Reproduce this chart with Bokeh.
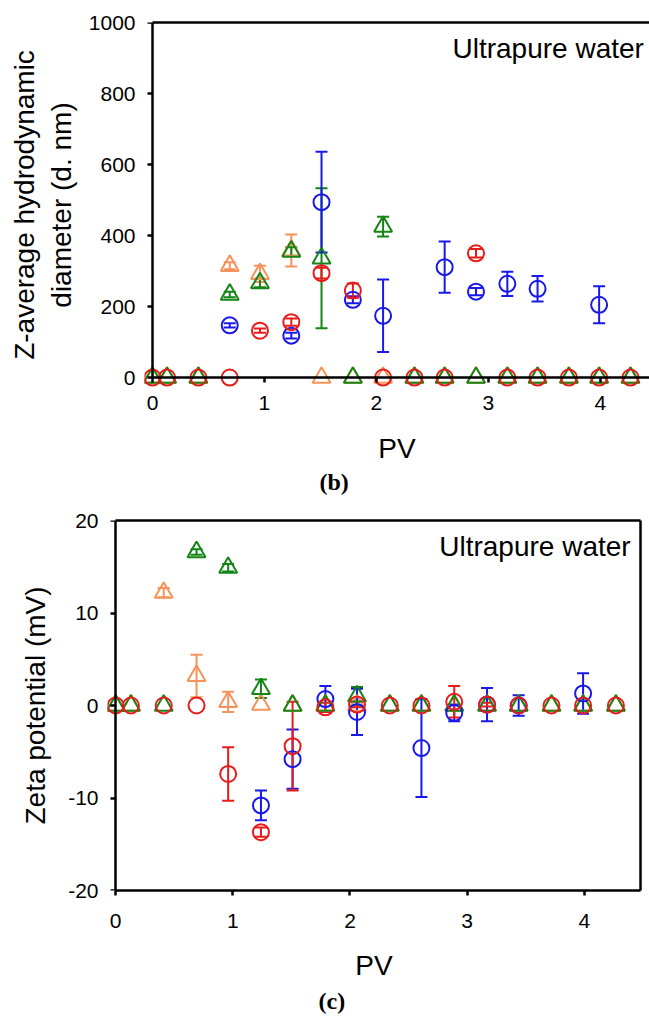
import math
from bokeh.plotting import figure
from bokeh.models import (Range1d, LinearAxis, Whisker, TeeHead, Label,
                          ColumnDataSource, FixedTicker, Title)
from bokeh.layouts import column
from bokeh.embed import file_html
from bokeh.resources import INLINE

NaN = float("nan")

# ---------------- data ----------------
pv = [0.0, 0.13, 0.41, 0.69, 0.96, 1.24, 1.51, 1.79, 2.06, 2.34, 2.61, 2.89,
      3.17, 3.44, 3.72, 3.99, 4.27]

# (b) Z-average hydrodynamic diameter (d. nm)
dia_orange = [0, 0, 0, 315, 292, 358, 0, 0, 0, 0, 0, 0, 0, 0, 0, 0, 0]
dia_orange_err = [0, 0, 0, 10, 23, 45, 0, 0, 0, 0, 0, 0, 0, 0, 0, 0, 0]
dia_green = [0, 0, 0, 234, 266, 355, 336, 0, 425, 0, 0, 0, 0, 0, 0, 0, 0]
dia_green_err = [0, 0, 0, 8, 12, 12, 197, 0, 28, 0, 0, 0, 0, 0, 0, 0, 0]
dia_blue = [NaN, NaN, NaN, 147, NaN, 118, 494, 219, 174, NaN, 311, 242, 264,
            250, NaN, 205, NaN]
dia_blue_err = [0, 0, 0, 6, 0, 8, 142, 10, 102, 0, 72, 10, 34, 36, 0, 52, 0]
dia_red = [0, 0, 0, 0, 132, 156, 294, 245, 0, 0, 0, 350, 0, 0, 0, 0, 0]
dia_red_err = [0, 0, 0, 0, 6, 10, 15, 20, 0, 0, 0, 12, 0, 0, 0, 0, 0]

# (c) Zeta potential (mV)
zeta_orange = [0, 0, 12.2, 3.2, 0.4, 0.1, 0, 0, 0, 0, 0, 0, 0, 0, 0, 0, 0]
zeta_orange_err = [0, 0, 0.5, 2.3, 1.1, 0, 0, 0, 0, 0, 0, 0, 0, 0, 0, 0, 0]
zeta_green = [0, 0, 0, 16.6, 14.9, 1.8, 0, 0, 1.0, 0, 0, 0, 0, 0, 0, 0, 0]
zeta_green_err = [0, 0, 0, 0.3, 0.4, 1.0, 0, 0, 1.0, 0, 0, 0, 0, 0, 0, 0, 0]
zeta_blue = [NaN, NaN, NaN, NaN, NaN, -10.8, -5.8, 0.7, -0.7, NaN, -4.6,
             -0.8, 0.1, 0.0, NaN, 1.3, NaN]
zeta_blue_err = [0, 0, 0, 0, 0, 1.6, 3.2, 1.4, 2.5, 0, 5.3, 0.9, 1.8, 1.1,
                 0, 2.2, 0]
zeta_red = [0, 0, 0, 0, -7.4, -13.7, -4.4, -0.2, 0.1, 0, 0, 0.4, 0.1, 0, 0,
            0, 0]
zeta_red_err = [0, 0, 0, 0, 2.9, 0.5, 4.8, 0.5, 0.3, 0, 0, 1.7, 0.2, 0, 0,
                0, 0]

x_ticks = [0, 1, 2, 3, 4]
dia_ticks = [0, 200, 400, 600, 800, 1000]
zeta_ticks = [-20, -10, 0, 10, 20]

ORANGE = "#F5935A"
GREEN = "#158515"
BLUE = "#1818E8"
RED = "#E81B1B"
FONT = "Liberation Sans"
SERIF = "Liberation Serif"
LW = 2.5


def label_axis(ax, ticks, standoff, line=False):
    ax.ticker = FixedTicker(ticks=ticks)
    ax.major_label_overrides = {t: str(t) for t in ticks}
    ax.major_label_text_font = FONT
    ax.major_label_text_font_size = "21px"
    ax.major_label_text_color = "black"
    ax.major_label_standoff = standoff
    ax.minor_tick_line_color = None
    ax.axis_label_text_font = FONT
    ax.axis_label_text_font_size = "28px"
    ax.axis_label_text_font_style = "normal"
    ax.axis_label_text_color = "black"
    if line:
        ax.axis_line_width = LW
        ax.axis_line_color = "black"
        ax.major_tick_line_width = LW
        ax.major_tick_line_color = "black"
        ax.major_tick_out = 5
        ax.major_tick_in = 0
    else:
        ax.axis_line_color = None
        ax.major_tick_line_color = None
        ax.major_tick_out = 0
        ax.major_tick_in = 0


def line_axis(ticks, bounds, fixed=None):
    # axis line with (label-free) tick marks only
    ax = LinearAxis(ticker=FixedTicker(ticks=[], minor_ticks=ticks),
                    bounds=bounds, axis_line_width=LW,
                    axis_line_color="black", major_tick_line_color=None,
                    minor_tick_line_width=LW,
                    minor_tick_line_color="black" if ticks else None,
                    minor_tick_in=5, minor_tick_out=0,
                    major_label_standoff=0)
    if fixed is not None:
        ax.fixed_location = fixed
    return ax


def add_series(p, xs, ys, errs, color, marker, size):
    keep = [i for i in range(len(xs)) if errs[i] > 0 and not math.isnan(ys[i])]
    src = ColumnDataSource(dict(
        x=[xs[i] for i in keep],
        upper=[ys[i] + errs[i] for i in keep],
        lower=[ys[i] - errs[i] for i in keep]))
    w = Whisker(source=src, base="x", upper="upper", lower="lower",
                line_color=color, line_width=2,
                upper_head=TeeHead(size=12, line_color=color, line_width=2),
                lower_head=TeeHead(size=12, line_color=color, line_width=2))
    p.add_layout(w)
    p.scatter(x=xs, y=ys, marker=marker, size=size, line_color=color,
              line_width=2, fill_alpha=0)


def base_fig(**kw):
    p = figure(output_backend="svg", toolbar_location=None, **kw)
    p.outline_line_color = None
    p.grid.visible = False
    p.background_fill_color = "white"
    p.border_fill_color = "white"
    p.frame_align = False
    return p


# ---------------- (b) ----------------
p1 = base_fig(width=649, height=500, x_range=Range1d(-0.0715, 4.44),
              y_range=Range1d(-28, 1000), min_border_left=144,
              min_border_right=0, min_border_top=22, min_border_bottom=113)
label_axis(p1.xaxis[0], x_ticks, 8)
label_axis(p1.yaxis[0], dia_ticks, 9)
p1.xaxis[0].axis_label = "PV"
p1.xaxis[0].axis_label_standoff = 20
p1.yaxis[0].axis_label = "Z-average hydrodynamic\ndiameter (d. nm)"
p1.yaxis[0].axis_label_standoff = 9
p1.add_layout(line_axis([], (0, 4.44)), "above")                 # top border
p1.add_layout(line_axis(x_ticks, (0, 4.44), fixed=0), "above")   # x axis at y=0
p1.add_layout(line_axis(dia_ticks, (0, 1000), fixed=0), "right")  # y axis at x=0

add_series(p1, pv, dia_orange, dia_orange_err, ORANGE, "triangle", 18)
add_series(p1, pv, dia_green, dia_green_err, GREEN, "triangle", 18)
add_series(p1, pv, dia_blue, dia_blue_err, BLUE, "circle", 16)
add_series(p1, pv, dia_red, dia_red_err, RED, "circle", 16)

p1.add_layout(Label(x=4.39, y=927, text="Ultrapure water", text_font=FONT,
                    text_font_size="28px", text_align="right",
                    text_baseline="alphabetic", text_color="black"))
p1.add_layout(Title(text="(b)", text_font=SERIF, text_font_size="24px",
                    text_font_style="bold", align="left", offset=175,
                    standoff=1, text_color="black"), "below")

# ---------------- (c) ----------------
p2 = base_fig(width=649, height=517, x_range=Range1d(-0.07, 4.48),
              y_range=Range1d(-20, 20), min_border_left=107,
              min_border_right=9, min_border_top=20, min_border_bottom=127)
label_axis(p2.xaxis[0], x_ticks, 18, line=True)
p2.xaxis[0].bounds = (0, 4.48)
label_axis(p2.yaxis[0], zeta_ticks, 9)
p2.xaxis[0].axis_label = "PV"
p2.xaxis[0].axis_label_standoff = 19
p2.yaxis[0].axis_label = "Zeta potential (mV)"
p2.yaxis[0].axis_label_standoff = 14
p2.add_layout(line_axis([], (0, 4.48)), "above")                   # top border
p2.add_layout(line_axis([], (-20, 20)), "right")                   # right border
p2.add_layout(line_axis(zeta_ticks, (-20, 20), fixed=0), "right")  # y axis

add_series(p2, pv, zeta_orange, zeta_orange_err, ORANGE, "triangle", 18)
add_series(p2, pv, zeta_green, zeta_green_err, GREEN, "triangle", 18)
add_series(p2, pv, zeta_blue, zeta_blue_err, BLUE, "circle", 16)
add_series(p2, pv, zeta_red, zeta_red_err, RED, "circle", 16)

p2.add_layout(Label(x=4.396, y=17.2, text="Ultrapure water", text_font=FONT,
                    text_font_size="28px", text_align="right",
                    text_baseline="alphabetic", text_color="black"))
p2.add_layout(Title(text="(c)", text_font=SERIF, text_font_size="24px",
                    text_font_style="bold", align="left", offset=211,
                    standoff=5, text_color="black"), "below")

layout = column(p1, p2, spacing=0)
open("out.html", "w").write(file_html(layout, INLINE))
